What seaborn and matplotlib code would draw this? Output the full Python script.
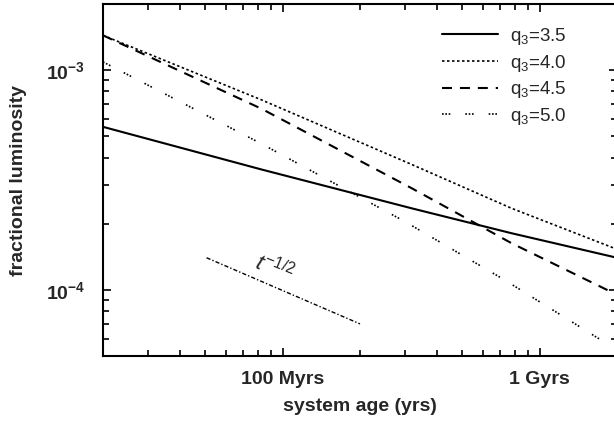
import numpy as np
import pandas as pd
import matplotlib
matplotlib.use("Agg")
import matplotlib.pyplot as plt
import seaborn as sns
from matplotlib.ticker import FixedLocator, FixedFormatter, LogLocator, NullFormatter

# ---- data ----
q_labels = [r"q$_3$=3.5", r"q$_3$=4.0", r"q$_3$=4.5", r"q$_3$=5.0"]

age_35 = [2.0e7, 8.28e7, 3.18e8, 7.78e8, 2.0e9]
lum_35 = [5.52e-4, 3.53e-4, 2.35e-4, 1.81e-4, 1.40e-4]

age_40 = [2.0e7, 8.28e7, 3.18e8, 7.78e8, 2.0e9]
lum_40 = [1.44e-3, 7.32e-4, 3.72e-4, 2.35e-4, 1.53e-4]

age_45 = [2.0e7, 8.28e7, 3.18e8, 7.78e8, 2.0e9]
lum_45 = [1.44e-3, 6.67e-4, 2.90e-4, 1.63e-4, 9.5e-5]

age_50 = [2.0e7, 8.28e7, 2.98e8, 7.3e8, 1.8e9]
lum_50 = [1.09e-3, 4.62e-4, 2.05e-4, 1.11e-4, 5.75e-5]

ref_age = [5.06e7, 2.0e8]
ref_lum = [1.40e-4, 7.0e-5]

x_ticks = [1e8, 1e9]
x_ticklabels = ["100 Myrs", "1 Gyrs"]
y_ticks = [1e-4, 1e-3]
y_ticklabels = [r"10$^{-4}$", r"10$^{-3}$"]

# ---- style ----
sns.set_style("ticks")
plt.rcParams["font.family"] = ["Liberation Sans", "DejaVu Sans"]
plt.rcParams["mathtext.fontset"] = "custom"
plt.rcParams["mathtext.rm"] = "Liberation Sans"
plt.rcParams["mathtext.it"] = "Liberation Sans:italic"
plt.rcParams["mathtext.bf"] = "Liberation Sans:bold"
plt.rcParams["mathtext.default"] = "regular"

fig = plt.figure(figsize=(6.14, 4.21), dpi=100)
ax = fig.add_axes([103 / 614, 65 / 421, 514 / 614, 352 / 421])

series = [
    (age_35, lum_35, q_labels[0], "-", 1.5),
    (age_40, lum_40, q_labels[1], (0, (1.5, 1.5)), 1.2),
    (age_45, lum_45, q_labels[2], (0, (4.8, 3.8)), 1.5),
    (age_50, lum_50, q_labels[3], (0, (1, 1, 1, 1, 1, 9)), 1.2),
]
for xs, ys, lab, ls, lw in series:
    df = pd.DataFrame({"age": xs, "lum": ys})
    sns.lineplot(data=df, x="age", y="lum", ax=ax, color="black",
                 linestyle=ls, linewidth=lw, label=lab, sort=False)

df_ref = pd.DataFrame({"age": ref_age, "lum": ref_lum})
sns.lineplot(data=df_ref, x="age", y="lum", ax=ax, color="black",
             linestyle=(0, (3, 1.5, 1, 1.5)), linewidth=1.0, sort=False)

ax.set_xscale("log")
ax.set_yscale("log")
ax.set_xlim(2e7, 2e9)
ax.set_ylim(5e-5, 2e-3)

ax.text(9.3e7, 1.25e-4, r"$\mathit{t}^{\mathit{-1/2}}$", fontsize=16,
        rotation=-22, rotation_mode="anchor", ha="center", va="center",
        fontstyle="italic")

ax.xaxis.set_major_locator(FixedLocator(x_ticks))
ax.xaxis.set_major_formatter(FixedFormatter(x_ticklabels))
ax.xaxis.set_minor_locator(LogLocator(base=10, subs=np.arange(2, 10)))
ax.xaxis.set_minor_formatter(NullFormatter())
ax.yaxis.set_major_locator(FixedLocator(y_ticks))
ax.yaxis.set_major_formatter(FixedFormatter(y_ticklabels))
ax.yaxis.set_minor_locator(LogLocator(base=10, subs=np.arange(2, 10)))
ax.yaxis.set_minor_formatter(NullFormatter())

ax.tick_params(which="both", direction="in", top=True, right=True,
               width=1.2, color="black")
ax.tick_params(which="major", length=5.5)
ax.tick_params(which="minor", length=4)
ax.tick_params(axis="x", which="major", pad=11, labelsize=14)
ax.tick_params(axis="y", which="major", pad=13, labelsize=14)
for lab in ax.get_xticklabels() + ax.get_yticklabels():
    lab.set_fontweight("bold")

for side in ["left", "bottom", "top", "right"]:
    ax.spines[side].set_linewidth(1.5)
    ax.spines[side].set_color("black")

ax.set_xlabel("system age (yrs)", fontsize=14, fontweight="bold")
ax.set_ylabel("fractional luminosity", fontsize=14, fontweight="bold")
ax.xaxis.set_label_coords(0.5, -0.118)
ax.yaxis.set_label_coords(-0.148, 0.5)

leg = ax.legend(loc="upper left", bbox_to_anchor=(442 / 614, 1 - 26 / 421),
                bbox_transform=fig.transFigure, frameon=False, fontsize=13.5,
                handlelength=3.0, handletextpad=0.65, labelspacing=0.3,
                borderpad=0, borderaxespad=0)

fig.savefig("out.png", dpi=100)
